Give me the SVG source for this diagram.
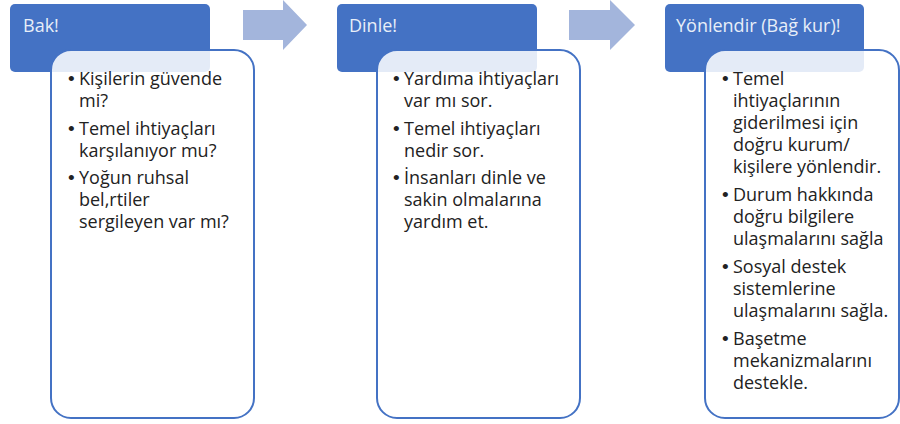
<svg xmlns="http://www.w3.org/2000/svg" width="900" height="424" viewBox="0 0 900 424">
<style>
.hdr{fill:#4472C4;}
.pnl{fill:#ffffff;fill-opacity:0.86;stroke:#4472C4;stroke-width:2;}
.arr{fill:#A3B5DC;}
.ht{font-family:"Open Sans","Noto Sans",sans-serif;font-size:18px;fill:#E8EEF8;}
.bt{font-family:"Open Sans","Noto Sans",sans-serif;font-size:18px;fill:#222222;}
.bl{font-family:"Liberation Sans",sans-serif;font-size:19px;}
</style>
<rect width="900" height="424" fill="#ffffff"/>
<g id="connectors">
<polygon class="arr" points="243,10 283,10 283,0 307,25 283,50 283,40 243,40"/>
<polygon class="arr" points="569,10 610,10 610,0 635,25 610,50 610,40 569,40"/>
</g>
<g id="bak">
<rect class="hdr" x="10" y="4" width="200" height="68" rx="5"/>
<text class="ht" x="23" y="32">Bak!</text>
<rect class="pnl" x="51" y="50" width="203" height="368" rx="20"/>
<text class="bt"><tspan class="bl" x="68" y="85">•</tspan><tspan x="79" y="85">Kişilerin güvende</tspan><tspan x="79" y="107">mi?</tspan><tspan class="bl" x="68" y="135">•</tspan><tspan x="79" y="135">Temel ihtiyaçları</tspan><tspan x="79" y="157">karşılanıyor mu?</tspan><tspan class="bl" x="68" y="184">•</tspan><tspan x="79" y="184">Yoğun ruhsal</tspan><tspan x="79" y="206">bel,rtiler</tspan><tspan x="79" y="228">sergileyen var mı?</tspan></text>
</g>
<g id="dinle">
<rect class="hdr" x="337" y="4" width="200" height="68" rx="5"/>
<text class="ht" x="349" y="32">Dinle!</text>
<rect class="pnl" x="377" y="50" width="203" height="368" rx="20"/>
<text class="bt"><tspan class="bl" x="393" y="85">•</tspan><tspan x="404" y="85">Yardıma ihtiyaçları</tspan><tspan x="404" y="107">var mı sor.</tspan><tspan class="bl" x="393" y="135">•</tspan><tspan x="404" y="135">Temel ihtiyaçları</tspan><tspan x="404" y="157">nedir sor.</tspan><tspan class="bl" x="393" y="184">•</tspan><tspan x="404" y="184">İnsanları dinle ve</tspan><tspan x="404" y="206">sakin olmalarına</tspan><tspan x="404" y="228">yardım et.</tspan></text>
</g>
<g id="yonlendir">
<rect class="hdr" x="665" y="4" width="199" height="68" rx="5"/>
<text class="ht" x="676" y="32">Yönlendir (Bağ kur)!</text>
<rect class="pnl" x="705" y="50" width="194" height="368" rx="20"/>
<text class="bt"><tspan class="bl" x="722" y="85">•</tspan><tspan x="733" y="85">Temel</tspan><tspan x="733" y="107">ihtiyaçlarının</tspan><tspan x="733" y="129">giderilmesi için</tspan><tspan x="733" y="151">doğru kurum/</tspan><tspan x="733" y="173">kişilere yönlendir.</tspan><tspan class="bl" x="722" y="201">•</tspan><tspan x="733" y="201">Durum hakkında</tspan><tspan x="733" y="223">doğru bilgilere</tspan><tspan x="733" y="245">ulaşmalarını sağla</tspan><tspan class="bl" x="722" y="273">•</tspan><tspan x="733" y="273">Sosyal destek</tspan><tspan x="733" y="295">sistemlerine</tspan><tspan x="733" y="317">ulaşmalarını sağla.</tspan><tspan class="bl" x="722" y="345">•</tspan><tspan x="733" y="345">Başetme</tspan><tspan x="733" y="367">mekanizmalarını</tspan><tspan x="733" y="389">destekle.</tspan></text>
</g>
</svg>
